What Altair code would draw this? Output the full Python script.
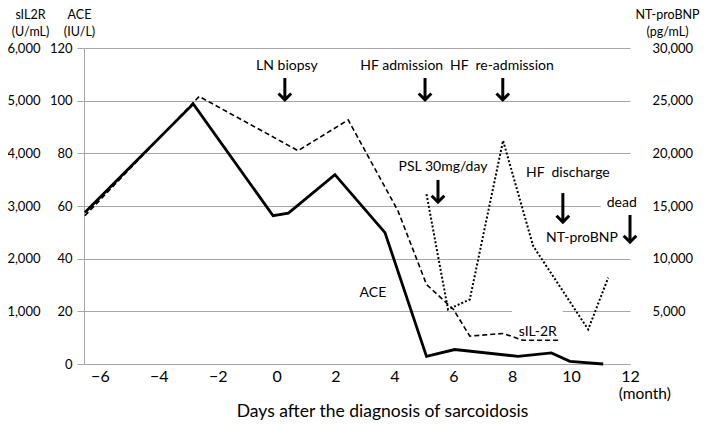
import altair as alt
import pandas as pd

# ---- data ----
ace_month = [-6.51, -2.83, -0.12, 0.40, 1.98, 3.68, 5.09, 6.05, 8.20, 9.33, 9.96, 11.09]
ace_value = [57.5, 98.8, 56.3, 57.3, 71.9, 49.9, 2.9, 5.5, 2.9, 4.2, 1.0, 0.0]

sil2r_month = [-6.51, -2.63, 0.73, 2.43, 4.12, 5.09, 6.00, 6.56, 7.69, 8.37, 9.56]
sil2r_value = [2815, 5080, 4050, 4635, 2910, 1510, 1040, 530, 580, 450, 450]

bnp_month = [5.09, 5.82, 6.56, 7.69, 8.71, 10.58, 11.26]
bnp_value = [16130, 5180, 6130, 21210, 11210, 3280, 8190]

x_ticks = [-6, -4, -2, 0, 2, 4, 6, 8, 10, 12]
ace_ticks = [0, 20, 40, 60, 80, 100, 120]
sil2r_ticks = [1000, 2000, 3000, 4000, 5000, 6000]
bnp_ticks = [5000, 10000, 15000, 20000, 25000, 30000]

# annotations (x in months, y in ACE units)
NB = "\u00a0"
label_text = ["LN biopsy", "HF admission", "HF" + NB + " re-admission", "PSL 30mg/day",
              "HF" + NB + " discharge", "dead", "NT-proBNP", "ACE", "sIL-2R"]
label_month = [0.35, 4.25, 7.65, 5.65, 9.89, 11.72, 10.37, 3.27, 8.87]
label_y = [113.2, 113.2, 113.2, 74.8, 72.5, 61.1, 47.9, 27.0, 12.2]

unit_text = ["(month)"]
unit_month = [12.5]
unit_y = [-11.4]

arrow_month = [0.28, 5.04, 7.68, 5.48, 9.72, 12.0]
arrow_top = [108.6, 108.6, 108.6, 69.9, 64.9, 56.6]
arrow_tip = [100.3, 100.3, 100.3, 61.5, 53.9, 46.3]

gap_x1 = [7.99, 11.0]
gap_x2 = [9.72, 12.0]
gap_y1 = [17.0, 57.0]
gap_y2 = [23.0, 63.0]

FONT = "Lato"
GRAY = "#a6a6a6"

ace_df = pd.DataFrame({"month": ace_month, "value": ace_value})
sil_df = pd.DataFrame({"month": sil2r_month, "value": sil2r_value})
bnp_df = pd.DataFrame({"month": bnp_month, "value": bnp_value})
lab_df = pd.DataFrame({"month": label_month, "y": label_y, "text": label_text})
unit_df = pd.DataFrame({"month": unit_month, "y": unit_y, "text": unit_text})
arr_df = pd.DataFrame({"month": arrow_month, "top": arrow_top,
                       "tip": arrow_tip,
                       "shaft_end": [t + 0.6 for t in arrow_tip]})
gap_df = pd.DataFrame({"x1": gap_x1, "x2": gap_x2, "y1": gap_y1, "y2": gap_y2})

xscale = alt.Scale(domain=[-6.54, 12], nice=False, zero=False)
ace_scale = alt.Scale(domain=[0, 120], nice=False)

title_common = dict(titleAngle=0, titleAlign="center", titleBaseline="top",
                    titleFont=FONT, titleFontSize=12.5, titleFontWeight="normal",
                    titleColor="black", titleLineHeight=17, titleY=-40)

x_axis = alt.Axis(values=x_ticks, grid=False, ticks=False, domainColor=GRAY,
                  labelFont=FONT, labelFontSize=16, labelColor="black", labelPadding=4,
                  title="Days after the diagnosis of sarcoidosis", titleFont=FONT,
                  titleFontSize=17.5, titleFontWeight="normal", titleColor="black",
                  titleX=298, titleY=47, titleAlign="center", titleBaseline="middle",
                  labelFlush=False)

ace_axis = alt.Axis(values=ace_ticks, orient="left", grid=True, gridColor=GRAY,
                    domainColor=GRAY, tickColor=GRAY, tickSize=7, labelPadding=5,
                    labelFont=FONT, labelFontSize=13, labelColor="black", format="d",
                    title=["ACE", "(IU/L)"], titleX=-5, **title_common)

sil_axis = alt.Axis(values=sil2r_ticks, orient="left", grid=False, domain=False,
                    ticks=False, labelPadding=44, labelFont=FONT, labelFontSize=13,
                    labelColor="black", format=",d",
                    title=["sIL2R", "(U/mL)"], titleX=-54, **title_common)

bnp_axis = alt.Axis(values=bnp_ticks, orient="right", grid=False, domain=False,
                    ticks=False, labelPadding=22, labelFont=FONT, labelFontSize=13,
                    labelColor="black", format=",d",
                    title=["NT-proBNP", "(pg/mL)"], titleX=37, **title_common)

gaps = alt.Chart(gap_df).mark_rect(color="white").encode(
    x=alt.X("x1:Q", scale=xscale, axis=x_axis),
    x2="x2:Q",
    y=alt.Y("y1:Q", scale=ace_scale, axis=None),
    y2="y2:Q",
)

ace_line = alt.Chart(ace_df).mark_line(color="black", strokeWidth=2.8).encode(
    x=alt.X("month:Q", scale=xscale),
    y=alt.Y("value:Q", scale=ace_scale, axis=ace_axis),
)

sil_line = alt.Chart(sil_df).mark_line(color="black", strokeWidth=1.6,
                                       strokeDash=[5, 3]).encode(
    x=alt.X("month:Q", scale=xscale),
    y=alt.Y("value:Q", scale=alt.Scale(domain=[0, 6000], nice=False), axis=sil_axis),
)

bnp_line = alt.Chart(bnp_df).mark_line(color="black", strokeWidth=2,
                                       strokeDash=[2, 2]).encode(
    x=alt.X("month:Q", scale=xscale),
    y=alt.Y("value:Q", scale=alt.Scale(domain=[0, 30000], nice=False), axis=bnp_axis),
)

labels = alt.Chart(lab_df).mark_text(font=FONT, fontSize=14, color="black",
                                     align="center", baseline="middle").encode(
    x=alt.X("month:Q", scale=xscale),
    y=alt.Y("y:Q", scale=ace_scale, axis=None),
    text="text:N",
)

unit_label = alt.Chart(unit_df).mark_text(font=FONT, fontSize=15.5, color="black",
                                          align="center", baseline="middle").encode(
    x=alt.X("month:Q", scale=xscale),
    y=alt.Y("y:Q", scale=ace_scale, axis=None),
    text="text:N",
)

shafts = alt.Chart(arr_df).mark_rule(color="black", strokeWidth=3).encode(
    x=alt.X("month:Q", scale=xscale),
    y=alt.Y("top:Q", scale=ace_scale, axis=None),
    y2="shaft_end:Q",
)

heads = alt.Chart(arr_df).mark_point(shape="M -1 -1 L 0 0 L 1 -1", filled=False,
                                     color="black", strokeWidth=3, size=160,
                                     opacity=1).encode(
    x=alt.X("month:Q", scale=xscale),
    y=alt.Y("tip:Q", scale=ace_scale, axis=None),
)

chart = alt.layer(gaps, ace_line, sil_line, bnp_line, labels, unit_label,
                  shafts, heads).resolve_scale(
    y="independent"
).properties(
    width=546, height=316,
    autosize=alt.AutoSizeParams(type="none"),
    padding={"left": 76, "top": 40, "right": 71, "bottom": 56},
).configure_view(stroke=None)

chart.save("out.html", embed_options={"renderer": "svg", "actions": False})
